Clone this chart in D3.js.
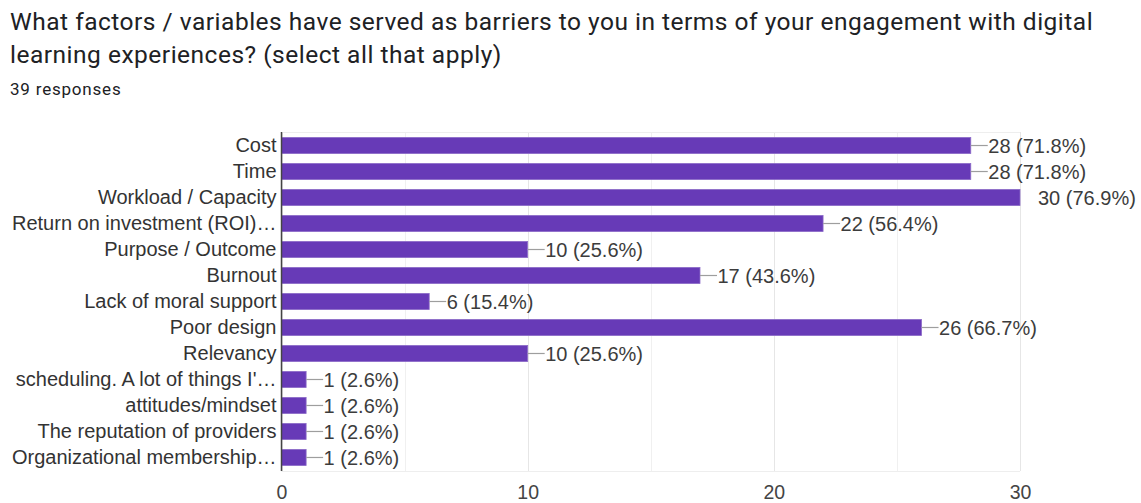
<!DOCTYPE html>
<html><head><meta charset="utf-8">
<script src="https://cdn.jsdelivr.net/npm/d3@7"></script>
<style>body{margin:0;background:#fff;} svg{display:block;}</style>
</head><body>
<svg id="c" width="1141" height="503"></svg>
<script>
const titleLines = ["What factors / variables have served as barriers to you in terms of your engagement with digital", "learning experiences? (select all that apply)"];
const subtitle = "39 responses";
const categories = ["Cost","Time","Workload / Capacity","Return on investment (ROI)…","Purpose / Outcome","Burnout","Lack of moral support","Poor design","Relevancy","scheduling. A lot of things I'…","attitudes/mindset","The reputation of providers","Organizational membership…"];
const counts = [28,28,30,22,10,17,6,26,10,1,1,1,1];
const percents = ["71.8%","71.8%","76.9%","56.4%","25.6%","43.6%","15.4%","66.7%","25.6%","2.6%","2.6%","2.6%","2.6%"];
const tickValues = [0,10,20,30];
const gridValues = [0,5,10,15,20,25,30];

const svg = d3.select("#c");
const m = {left:281.5, right:1020, top:132, bottom:471};
const x = d3.scaleLinear().domain([0,30]).range([m.left, m.right]);
const y = d3.scaleBand().domain(categories).range([m.top, m.bottom]).paddingInner(0.38).paddingOuter(0.21);

// title
svg.selectAll("text.title").data(titleLines).enter().append("text")
  .attr("x", 10).attr("y", (d,i)=>30+i*33)
  .attr("font-family","Roboto").attr("font-size","24.5px").attr("letter-spacing","0.5px").attr("fill","#202124").text(d=>d);
svg.append("text").attr("x",10).attr("y",95).attr("font-family","Roboto").attr("font-size","17px").attr("letter-spacing","0.8px").attr("fill","#202124").text(subtitle);

// grid
svg.append("g").selectAll("line").data(gridValues).enter().append("line")
  .attr("x1",d=>Math.round(x(d))+0.5).attr("x2",d=>Math.round(x(d))+0.5)
  .attr("y1",m.top).attr("y2",m.bottom).attr("stroke",d=>d%10===0?"#e6e6e6":"#f0f0f0").attr("stroke-width",1);
svg.append("line").attr("x1",m.left).attr("x2",m.right).attr("y1",m.top+0.5).attr("y2",m.top+0.5).attr("stroke","#eeeeee");
svg.append("line").attr("x1",m.left).attr("x2",m.right).attr("y1",m.bottom+0.5).attr("y2",m.bottom+0.5).attr("stroke","#eeeeee");

// bars
svg.append("g").selectAll("rect").data(categories).enter().append("rect")
  .attr("x", x(0)).attr("y",(d)=>y(d)).attr("height",y.bandwidth())
  .attr("width",(d,i)=>x(counts[i])-x(0))
  .attr("fill","#673ab7").attr("stroke","#8c6bc8").attr("stroke-width",0.8);

// leader lines + labels
const lab = svg.append("g");
categories.forEach((c,i)=>{
  const xe = x(counts[i]);
  const yc = y(c)+y.bandwidth()/2;
  if (counts[i] < x.domain()[1]) {
    lab.append("line").attr("x1",xe).attr("x2",xe+17).attr("y1",yc).attr("y2",yc).attr("stroke","#9e9e9e").attr("stroke-width",1.2);
  }
  lab.append("text").attr("x", xe+ (counts[i] < x.domain()[1] ? 17.5 : 18)).attr("y",yc).attr("dy","0.36em")
    .attr("font-family","Liberation Sans, Arial").attr("font-size","20px").attr("fill","#3c3c3c")
    .text(counts[i]+" ("+percents[i]+")");
});

// y axis
const ya = svg.append("g").attr("transform",`translate(${m.left},0)`)
  .call(d3.axisLeft(y).tickSize(0).tickPadding(5));
ya.select(".domain").attr("stroke","#444").attr("stroke-width",1.5).attr("d",`M0,${m.top}V${m.bottom}`);
ya.selectAll("text").attr("font-family","Liberation Sans, Arial").attr("font-size","20px").attr("fill","#333");

// x axis
const xa = svg.append("g").attr("transform",`translate(0,${m.bottom})`)
  .call(d3.axisBottom(x).tickValues(tickValues).tickSize(0).tickPadding(14).tickFormat(d3.format("d")));
xa.select(".domain").remove();
xa.selectAll("text").attr("font-family","Liberation Sans, Arial").attr("font-size","19.5px").attr("fill","#444");
</script>
</body></html>
